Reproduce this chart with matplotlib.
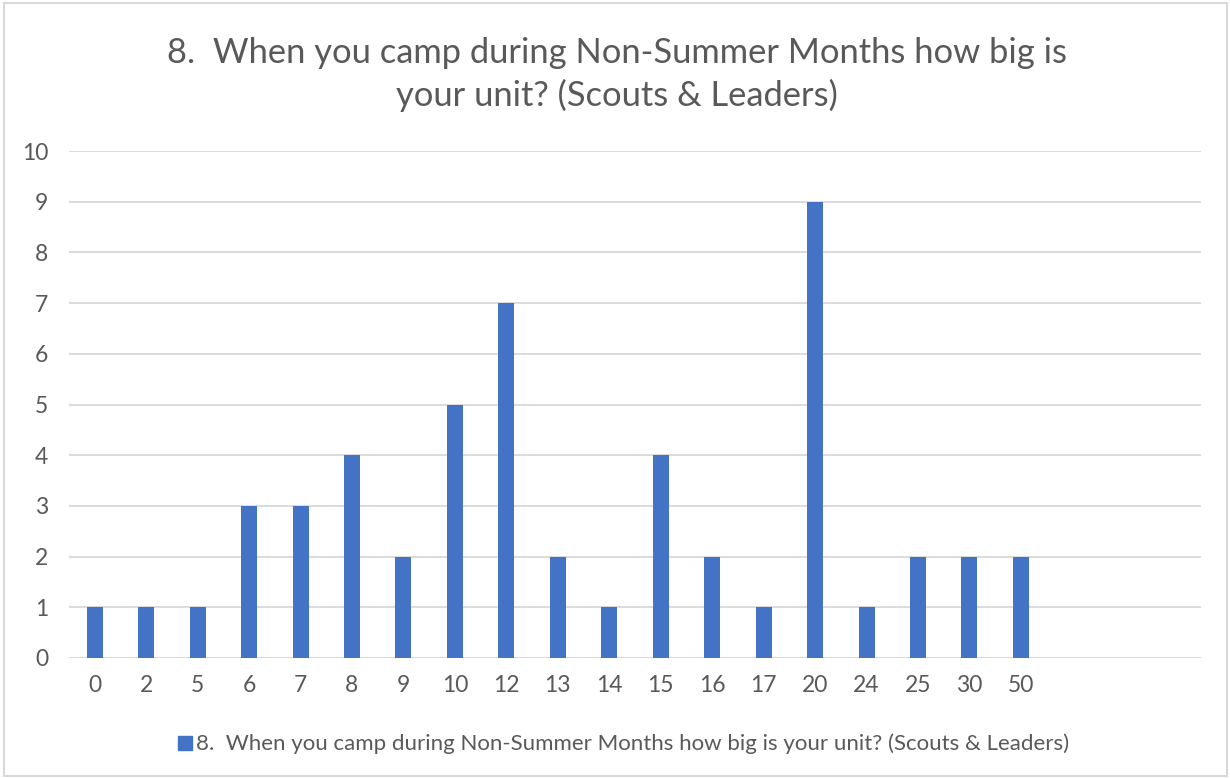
import matplotlib.pyplot as plt
from matplotlib.patches import Rectangle
from matplotlib.lines import Line2D

# unit sizes reported, with counts of responses
sizes = ["0", "2", "5", "6", "7", "8", "9", "10", "12", "13", "14",
         "15", "16", "17", "20", "24", "25", "30", "50"]
counts = [1, 1, 1, 3, 3, 4, 2, 5, 7, 2, 1, 4, 2, 1, 9, 1, 2, 2, 2]
n_slots = 22  # category axis keeps three empty slots on the right

title = "8.  When you camp during Non-Summer Months how big is\nyour unit? (Scouts & Leaders)"
series_name = "8.  When you camp during Non-Summer Months how big is your unit? (Scouts & Leaders)"

BAR = "#4472C4"
TXT = "#595959"
GRID = "#D9D9D9"

plt.rcParams["font.family"] = ["Lato", "DejaVu Sans"]

fig = plt.figure(figsize=(12.3, 7.78), dpi=100)
ax = fig.add_axes([69 / 1230, 1 - 658 / 778, 1132 / 1230, 507 / 778])

x = list(range(len(sizes)))
ax.bar(x, counts, width=0.31, color=BAR, zorder=3)

ax.set_xlim(-0.5, n_slots - 0.5)
ax.set_ylim(0, 10)
ax.set_yticks(range(0, 11))
ax.set_xticks(x)
ax.set_xticklabels(sizes)
ax.yaxis.grid(True, color=GRID, linewidth=1.3, zorder=0)
for s in ax.spines.values():
    s.set_visible(False)
ax.axhline(0, color=GRID, linewidth=1.3, zorder=2)
ax.tick_params(axis="both", length=0, labelsize=16.5, labelcolor=TXT)
ax.tick_params(axis="y", pad=15)
ax.tick_params(axis="x", pad=12)

fig.text(0.5017, 0.904, title, ha="center", va="center", fontsize=24.8,
         color=TXT, linespacing=1.38)

handle = Line2D([], [], linestyle="none", marker="s", markersize=10,
                markerfacecolor=BAR, markeredgecolor=BAR)
fig.legend([handle], [series_name], loc="center",
           bbox_to_anchor=(0.507, 1 - 744 / 778), frameon=False,
           fontsize=16, handlelength=0.6, handletextpad=0.2,
           labelcolor=TXT)

# chart border
fig.patches.append(Rectangle((4 / 1230, 2 / 778), 1223 / 1230, 773 / 778,
                             transform=fig.transFigure, fill=False,
                             edgecolor="#D9D9D9", linewidth=1.5))

fig.savefig("out.png", dpi=100)
